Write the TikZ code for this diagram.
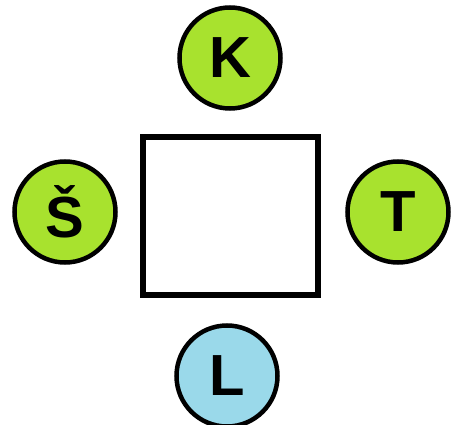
\documentclass[tikz,border=0pt]{standalone}
\usepackage{fontspec}
\setmainfont{Liberation Sans}
\definecolor{lime}{HTML}{A8E22E}
\definecolor{sky}{HTML}{9AD9EA}
\begin{document}
\begin{tikzpicture}[x=1pt,y=-1pt,
  letter/.style={circle,draw=black,line width=4.5pt,minimum size=101pt,inner sep=0pt,
    font=\fontsize{58}{58}\selectfont\bfseries,text=black},
  frame/.style={draw=black,line width=5.5pt}]
\useasboundingbox (0,0) rectangle (453,425);
\node[letter,fill=lime] (k) at (230,58) {K};
\node[letter,fill=lime] (s) at (65,212) {Š};
\node[letter,fill=lime] (t) at (398,212) {T};
\node[letter,fill=sky] (l) at (227,376) {L};
\node[frame,minimum width=175pt,minimum height=158pt,inner sep=0pt] (box) at (230.5,216) {};
\end{tikzpicture}
\end{document}
